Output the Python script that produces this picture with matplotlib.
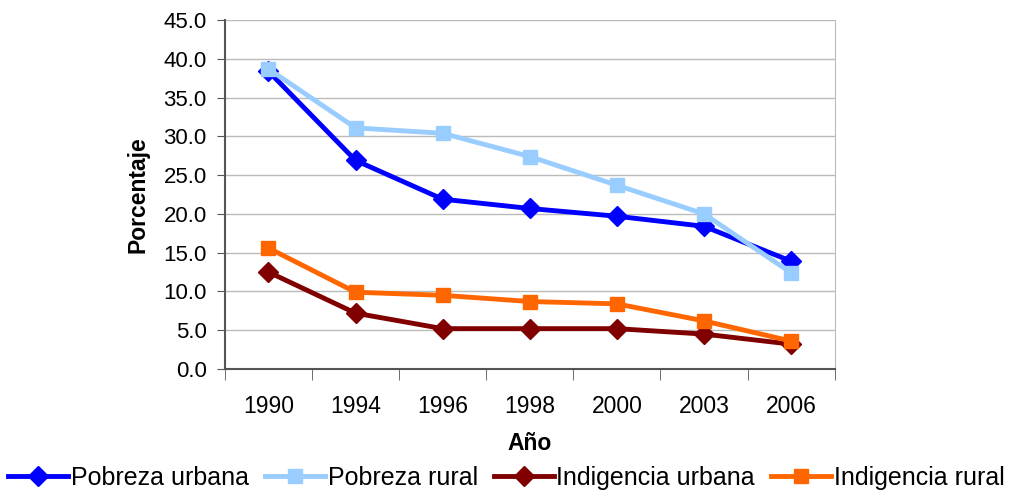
import numpy as np
import matplotlib.pyplot as plt

plt.rcParams['font.family'] = ['Liberation Sans', 'DejaVu Sans']

years = ['1990', '1994', '1996', '1998', '2000', '2003', '2006']
pobreza_urbana = [38.4, 26.9, 21.9, 20.7, 19.7, 18.4, 13.9]
pobreza_rural = [38.7, 31.1, 30.4, 27.4, 23.7, 20.0, 12.4]
indigencia_urbana = [12.5, 7.2, 5.2, 5.2, 5.2, 4.5, 3.2]
indigencia_rural = [15.6, 9.9, 9.5, 8.7, 8.4, 6.2, 3.6]

fig = plt.figure(figsize=(10.13, 4.9), dpi=100)
ax = fig.add_axes([0.222, 0.247, 0.602, 0.712])

x = np.arange(len(years))
series = [
    (pobreza_urbana, 'Pobreza urbana', '#0000FF', 'D'),
    (pobreza_rural, 'Pobreza rural', '#99CCFF', 's'),
    (indigencia_urbana, 'Indigencia urbana', '#800000', 'D'),
    (indigencia_rural, 'Indigencia rural', '#FF6600', 's'),
]
for vals, name, col, mk in series:
    ax.plot(x, vals, color=col, lw=3.5, marker=mk, markersize=10,
            label=name, zorder=3)

ax.set_xlim(-0.5, len(years) - 0.5)
ax.set_ylim(0, 45)
ax.set_yticks(np.arange(0, 45.1, 5))
ax.set_yticklabels(['%.1f' % v for v in np.arange(0, 45.1, 5)], fontsize=16)
ax.yaxis.grid(True, color='#BBBBBB', lw=1)
ax.set_axisbelow(True)

ax.set_xticks(x)
ax.set_xticklabels(years, fontsize=16.5)
ax.tick_params(axis='x', which='major', length=0, pad=19)
ax.set_xticks(np.arange(-0.5, len(years), 1), minor=True)
ax.tick_params(axis='x', which='minor', length=8, color='#555555')
ax.tick_params(axis='y', length=6, color='#555555', pad=7)

for s in ['left', 'bottom']:
    ax.spines[s].set_color('#555555')
    ax.spines[s].set_linewidth(1.5)
ax.spines['right'].set_color('#BBBBBB')
ax.spines['top'].set_visible(False)

ax.set_ylabel('Porcentaje', fontsize=16.5, fontweight='bold', labelpad=10)
ax.set_xlabel('Año', fontsize=16.5, fontweight='bold', labelpad=10)

fig.legend(loc='lower center', ncol=4, bbox_to_anchor=(0.5, -0.045),
           frameon=False, fontsize=18, handlelength=2.4, handletextpad=0.1,
           columnspacing=0.65)

plt.savefig('out.png', dpi=100)
